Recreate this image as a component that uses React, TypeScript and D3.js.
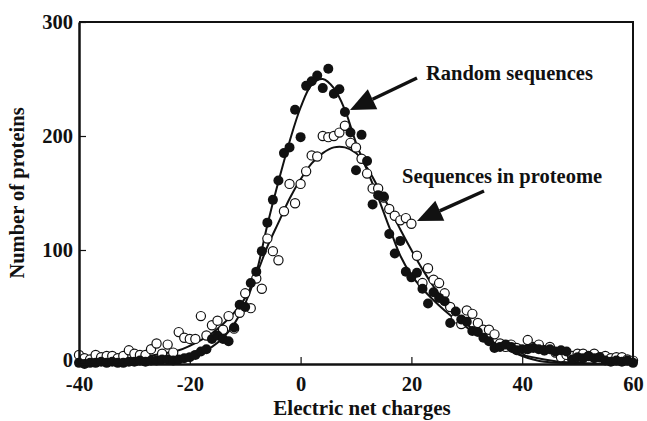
import React, { useRef, useEffect } from 'react';
import * as d3 from 'd3';

// charge values -40..60, one point per integer charge
const charges = d3.range(-40, 61);

// filled circles: random sequences
const randomCounts = [
  1, 0, 1, 1, 2, 1, 2, 1, 1, 2,
  2, 3, 2, 3, 3, 4, 4, 3, 4, 5,
  6, 8, 11, 13, 22, 25, 22, 20, 32, 52,
  50, 71, 81, 99, 124, 144, 161, 185, 190, 223,
  199, 244, 248, 253, 242, 259, 237, 241, 221, 203,
  170, 201, 178, 140, 148, 147, 114, 97, 108, 81,
  76, 80, 66, 53, 63, 58, 55, 36, 46, 39,
  37, 29, 28, 23, 20, 14, 15, 17, 15, 12,
  13, 13, 14, 13, 12, 13, 11, 12, 11, 4,
  6, 5, 7, 5, 6, 3, 2, 3, 2, 3,
  1
];

// open circles: sequences in proteome
const proteomeCounts = [
  8, 5, 4, 8, 6, 7, 7, 5, 7, 12,
  9, 8, 8, 13, 18, 9, 17, 10, 28, 23,
  22, 22, 42, 25, 34, 38, 30, 42, 31, 45,
  62, 49, 75, 66, 110, 99, 91, 134, 158, 141,
  158, 169, 183, 182, 200, 199, 200, 203, 209, 194,
  190, 180, 167, 154, 154, 146, 136, 130, 126, 128,
  123, 95, 71, 84, 74, 71, 62, 50, 40, 35,
  47, 44, 36, 30, 30, 26, 18, 15, 17, 14,
  12, 21, 15, 17, 12, 15, 10, 6, 8, 7,
  9, 9, 7, 9, 6, 7, 5, 6, 6, 4,
  3
];

// fitted curves
const randomFitX = [-40, -35, -30, -26, -22, -20, -18, -16, -14, -12, -10, -8, -6, -4, -2, 0, 2, 4, 6, 8, 10, 12, 14, 16, 18, 20, 22, 24, 26, 28, 30, 32, 34, 36, 38, 40, 42, 44, 48, 55, 60];
const randomFitY = [0, 0.5, 1, 2, 4, 6, 10, 15, 23, 35, 53, 80, 122, 160, 195, 225, 245, 250, 242, 223, 194, 170, 146, 120, 95, 78, 66, 56, 47, 39, 32, 26, 21, 16, 11, 7, 4, 2, 0.8, 0, 0];

const proteomeFitX = [-40, -35, -30, -25, -22, -20, -18, -16, -14, -12, -10, -8, -6, -4, -2, 0, 2, 4, 6, 8, 10, 12, 14, 16, 18, 20, 22, 24, 26, 28, 30, 32, 34, 36, 38, 40, 44, 48, 52, 56, 60];
const proteomeFitY = [2, 3, 5, 9, 12, 16, 21, 27, 35, 45, 58, 78, 103, 124, 145, 162, 176, 185, 190, 190, 185, 172, 155, 137, 118, 100, 83, 68, 55, 44, 35, 27, 21, 16, 11, 8, 4, 1.5, 0.5, 0.2, 0];

const xTicks = [-40, -20, 0, 20, 40, 60];
const yTicks = [0, 100, 200, 300];

const font = '"Liberation Serif", "Times New Roman", serif';

function App() {
  const svgRef = useRef<SVGSVGElement>(null);

  useEffect(() => {
    const width = 647;
    const height = 421;
    const margin = { top: 22, right: 14, bottom: 57, left: 79 };

    const svg = d3.select(svgRef.current)
      .attr('width', width)
      .attr('height', height);
    svg.selectAll('*').remove();

    const x = d3.scaleLinear()
      .domain([-40, 60])
      .range([margin.left, width - margin.right]);
    const y = d3.scaleLinear()
      .domain([0, 300])
      .range([height - margin.bottom, margin.top]);

    // fitted curves
    const curves = [
      randomFitX.map((v, i) => [x(v), y(randomFitY[i])]),
      proteomeFitX.map((v, i) => [x(v), y(proteomeFitY[i])]),
    ];
    svg.append('g')
      .selectAll('path')
      .data(curves)
      .join('path')
      .attr('d', d => d3.line().curve(d3.curveCatmullRom.alpha(0.5))(d as [number, number][]))
      .attr('fill', 'none')
      .attr('stroke', '#111')
      .attr('stroke-width', 2);

    // open circles
    svg.append('g')
      .selectAll('circle')
      .data(charges)
      .join('circle')
      .attr('cx', d => x(d))
      .attr('cy', (d, i) => y(proteomeCounts[i]))
      .attr('r', 4.6)
      .attr('fill', '#fff')
      .attr('stroke', '#111')
      .attr('stroke-width', 1.2);

    // filled circles
    svg.append('g')
      .selectAll('circle')
      .data(charges)
      .join('circle')
      .attr('cx', d => x(d))
      .attr('cy', (d, i) => y(randomCounts[i]))
      .attr('r', 5)
      .attr('fill', '#111');

    // frame
    const x0 = x(-40), x1 = x(60), y0 = y(0), y1 = y(300);
    svg.append('path')
      .attr('d', `M${x0},${y1}H${x1}V${y0}`)
      .attr('fill', 'none')
      .attr('stroke', '#111')
      .attr('stroke-width', 2);

    // x axis, ticks pointing in
    const xAxis = svg.append('g')
      .attr('transform', `translate(0,${y0})`)
      .call(d3.axisBottom(x).tickValues(xTicks).tickSize(-7).tickSizeOuter(0).tickFormat(d => String(d)));
    xAxis.select('.domain').attr('stroke', '#111').attr('stroke-width', 2.5);
    xAxis.selectAll('.tick line').attr('stroke', '#111').attr('stroke-width', 1.2);
    xAxis.selectAll('.tick text')
      .attr('font-family', font).attr('font-size', 20.5).attr('font-weight', 'bold').attr('fill', '#111')
      .attr('y', 27).attr('dy', 0);

    const yAxis = svg.append('g')
      .attr('transform', `translate(${x0},0)`)
      .call(d3.axisLeft(y).tickValues(yTicks).tickSize(-7).tickSizeOuter(0).tickPadding(6));
    yAxis.select('.domain').attr('stroke', '#111').attr('stroke-width', 2.5);
    yAxis.selectAll('.tick line').attr('stroke', '#111').attr('stroke-width', 1.2);
    yAxis.selectAll('.tick text')
      .attr('font-family', font).attr('font-size', 20.5).attr('font-weight', 'bold').attr('fill', '#111')
      .attr('y', d => (d === 0 ? -4 : 0));

    // axis titles
    svg.append('text')
      .attr('x', 362)
      .attr('y', 415)
      .attr('text-anchor', 'middle')
      .attr('font-family', font).attr('font-size', 21).attr('font-weight', 'bold').attr('fill', '#111')
      .text('Electric net charges');
    svg.append('text')
      .attr('transform', `translate(24,${(y0 + y1) / 2}) rotate(-90)`)
      .attr('text-anchor', 'middle')
      .attr('font-family', font).attr('font-size', 20.5).attr('font-weight', 'bold').attr('fill', '#111')
      .text('Number of proteins');

    // annotations
    const notes = [
      { label: 'Random sequences', tx: 426, ty: 80, from: [417, 78], to: [350, 110] },
      { label: 'Sequences in proteome', tx: 402, ty: 183, from: [484, 191], to: [417, 221] },
    ];
    notes.forEach(n => {
      svg.append('text')
        .attr('x', n.tx).attr('y', n.ty)
        .attr('font-family', font).attr('font-size', 20.5).attr('font-weight', 'bold').attr('fill', '#111')
        .text(n.label);
      const [fx, fy] = n.from;
      const [tx, ty] = n.to;
      const ang = Math.atan2(ty - fy, tx - fx);
      const headLen = 25, headW = 11;
      const bx = tx - headLen * Math.cos(ang), by = ty - headLen * Math.sin(ang);
      svg.append('line')
        .attr('x1', fx).attr('y1', fy).attr('x2', bx).attr('y2', by)
        .attr('stroke', '#111').attr('stroke-width', 3.5);
      const px = -Math.sin(ang), py = Math.cos(ang);
      svg.append('path')
        .attr('d', `M${tx},${ty}L${bx + px * headW},${by + py * headW}L${bx - px * headW},${by - py * headW}Z`)
        .attr('fill', '#111');
    });
  }, []);

  return (
    <div style={{ position: 'absolute', left: 0, top: 0 }}>
      <svg ref={svgRef} style={{ display: 'block', background: '#fff' }}></svg>
    </div>
  );
}

export default App;
